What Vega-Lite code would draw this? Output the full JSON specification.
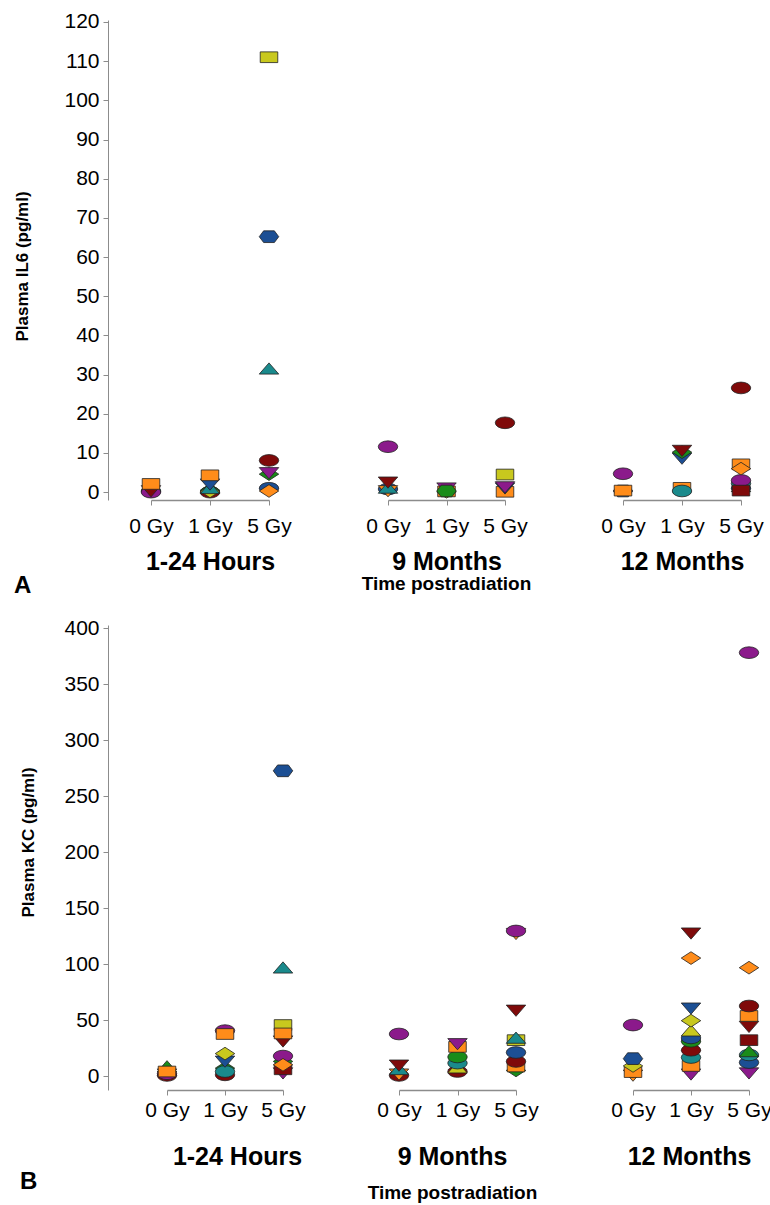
{
  "$schema": "https://vega.github.io/schema/vega-lite/v6.json",
  "padding": {"left": 13, "top": 10, "right": 0, "bottom": 0},
  "spacing": 19,
  "config": {
    "view": {"stroke": null},
    "font": "Liberation Sans",
    "axis": {"domainColor": "#8c8c8c", "tickColor": "#8c8c8c", "labelColor": "#000000", "titleColor": "#000000", "labelFont": "Liberation Sans", "titleFont": "Liberation Sans", "grid": false, "tickSize": 5, "labelFontSize": 21, "labelFontWeight": "normal"},
    "axisX": {"labelAngle": 0, "domainWidth": 1.5, "titleFontSize": 25, "titleFontWeight": "bold"},
    "axisY": {"domainWidth": 1, "titleFontSize": 17, "titleFontWeight": "bold", "labelPadding": 4},
    "title": {"font": "Liberation Sans", "color": "#000000"},
    "point": {"filled": true, "stroke": "#222222", "strokeWidth": 0.8, "opacity": 1, "size": 380}
  },
  "datasets": {
    "il6": [
      {"time": "1-24 Hours", "dose": "0 Gy", "series": "S02", "value": 0.5},
      {"time": "1-24 Hours", "dose": "0 Gy", "series": "S12", "value": 0.2},
      {"time": "1-24 Hours", "dose": "0 Gy", "series": "S10", "value": 0.0},
      {"time": "1-24 Hours", "dose": "0 Gy", "series": "S09", "value": 0.3},
      {"time": "1-24 Hours", "dose": "0 Gy", "series": "S07", "value": 2.1},
      {"time": "1-24 Hours", "dose": "1 Gy", "series": "S04", "value": 0.0},
      {"time": "1-24 Hours", "dose": "1 Gy", "series": "S18", "value": 0.5},
      {"time": "1-24 Hours", "dose": "1 Gy", "series": "S14", "value": 0.2},
      {"time": "1-24 Hours", "dose": "1 Gy", "series": "S03", "value": 1.0},
      {"time": "1-24 Hours", "dose": "1 Gy", "series": "S08", "value": 2.0},
      {"time": "1-24 Hours", "dose": "1 Gy", "series": "S07", "value": 4.3},
      {"time": "1-24 Hours", "dose": "5 Gy", "series": "S16", "value": 1.0},
      {"time": "1-24 Hours", "dose": "5 Gy", "series": "S06", "value": 0.3},
      {"time": "1-24 Hours", "dose": "5 Gy", "series": "S18", "value": 4.6},
      {"time": "1-24 Hours", "dose": "5 Gy", "series": "S05", "value": 4.9},
      {"time": "1-24 Hours", "dose": "5 Gy", "series": "S04", "value": 8.1},
      {"time": "1-24 Hours", "dose": "5 Gy", "series": "S03", "value": 31.5},
      {"time": "1-24 Hours", "dose": "5 Gy", "series": "S02", "value": 65.2},
      {"time": "1-24 Hours", "dose": "5 Gy", "series": "S01", "value": 111.0},
      {"time": "9 Months", "dose": "0 Gy", "series": "S16", "value": 0.8},
      {"time": "9 Months", "dose": "0 Gy", "series": "S19", "value": 0.3},
      {"time": "9 Months", "dose": "0 Gy", "series": "S03", "value": 1.1},
      {"time": "9 Months", "dose": "0 Gy", "series": "S09", "value": 2.5},
      {"time": "9 Months", "dose": "0 Gy", "series": "S10", "value": 11.6},
      {"time": "9 Months", "dose": "1 Gy", "series": "S14", "value": 0.1},
      {"time": "9 Months", "dose": "1 Gy", "series": "S07", "value": 0.2},
      {"time": "9 Months", "dose": "1 Gy", "series": "S05", "value": 1.0},
      {"time": "9 Months", "dose": "1 Gy", "series": "S11", "value": 0.3},
      {"time": "9 Months", "dose": "5 Gy", "series": "S07", "value": 0.1},
      {"time": "9 Months", "dose": "5 Gy", "series": "S08", "value": 1.0},
      {"time": "9 Months", "dose": "5 Gy", "series": "S05", "value": 1.3},
      {"time": "9 Months", "dose": "5 Gy", "series": "S01", "value": 4.5},
      {"time": "9 Months", "dose": "5 Gy", "series": "S04", "value": 17.7},
      {"time": "12 Months", "dose": "0 Gy", "series": "S02", "value": 0.3},
      {"time": "12 Months", "dose": "0 Gy", "series": "S07", "value": 0.4},
      {"time": "12 Months", "dose": "0 Gy", "series": "S10", "value": 4.7},
      {"time": "12 Months", "dose": "1 Gy", "series": "S07", "value": 1.1},
      {"time": "12 Months", "dose": "1 Gy", "series": "S12", "value": 0.3},
      {"time": "12 Months", "dose": "1 Gy", "series": "S08", "value": 8.6},
      {"time": "12 Months", "dose": "1 Gy", "series": "S18", "value": 10.2},
      {"time": "12 Months", "dose": "1 Gy", "series": "S09", "value": 10.6},
      {"time": "12 Months", "dose": "5 Gy", "series": "S16", "value": 1.0},
      {"time": "12 Months", "dose": "5 Gy", "series": "S13", "value": 1.5},
      {"time": "12 Months", "dose": "5 Gy", "series": "S12", "value": 2.2},
      {"time": "12 Months", "dose": "5 Gy", "series": "S10", "value": 3.0},
      {"time": "12 Months", "dose": "5 Gy", "series": "S17", "value": 0.4},
      {"time": "12 Months", "dose": "5 Gy", "series": "S07", "value": 7.1},
      {"time": "12 Months", "dose": "5 Gy", "series": "S06", "value": 6.0},
      {"time": "12 Months", "dose": "5 Gy", "series": "S04", "value": 26.6}
    ],
    "kc": [
      {"time": "1-24 Hours", "dose": "0 Gy", "series": "S04", "value": 0.5},
      {"time": "1-24 Hours", "dose": "0 Gy", "series": "S09", "value": 1.5},
      {"time": "1-24 Hours", "dose": "0 Gy", "series": "S10", "value": 2.0},
      {"time": "1-24 Hours", "dose": "0 Gy", "series": "S13", "value": 8.5},
      {"time": "1-24 Hours", "dose": "0 Gy", "series": "S07", "value": 4.0},
      {"time": "1-24 Hours", "dose": "1 Gy", "series": "S04", "value": 1.0},
      {"time": "1-24 Hours", "dose": "1 Gy", "series": "S18", "value": 7.0},
      {"time": "1-24 Hours", "dose": "1 Gy", "series": "S12", "value": 4.0},
      {"time": "1-24 Hours", "dose": "1 Gy", "series": "S08", "value": 13.0},
      {"time": "1-24 Hours", "dose": "1 Gy", "series": "S14", "value": 20.0},
      {"time": "1-24 Hours", "dose": "1 Gy", "series": "S10", "value": 40.5},
      {"time": "1-24 Hours", "dose": "1 Gy", "series": "S07", "value": 37.5},
      {"time": "1-24 Hours", "dose": "5 Gy", "series": "S05", "value": 2.5},
      {"time": "1-24 Hours", "dose": "5 Gy", "series": "S17", "value": 6.0},
      {"time": "1-24 Hours", "dose": "5 Gy", "series": "S18", "value": 13.0},
      {"time": "1-24 Hours", "dose": "5 Gy", "series": "S10", "value": 17.8},
      {"time": "1-24 Hours", "dose": "5 Gy", "series": "S06", "value": 10.0},
      {"time": "1-24 Hours", "dose": "5 Gy", "series": "S09", "value": 31.0},
      {"time": "1-24 Hours", "dose": "5 Gy", "series": "S01", "value": 45.5},
      {"time": "1-24 Hours", "dose": "5 Gy", "series": "S07", "value": 38.0},
      {"time": "1-24 Hours", "dose": "5 Gy", "series": "S03", "value": 96.7},
      {"time": "1-24 Hours", "dose": "5 Gy", "series": "S02", "value": 272.5},
      {"time": "9 Months", "dose": "0 Gy", "series": "S04", "value": 0.5},
      {"time": "9 Months", "dose": "0 Gy", "series": "S19", "value": 1.5},
      {"time": "9 Months", "dose": "0 Gy", "series": "S03", "value": 6.0},
      {"time": "9 Months", "dose": "0 Gy", "series": "S09", "value": 9.5},
      {"time": "9 Months", "dose": "0 Gy", "series": "S10", "value": 37.5},
      {"time": "9 Months", "dose": "1 Gy", "series": "S04", "value": 4.0},
      {"time": "9 Months", "dose": "1 Gy", "series": "S15", "value": 7.5},
      {"time": "9 Months", "dose": "1 Gy", "series": "S12", "value": 11.5},
      {"time": "9 Months", "dose": "1 Gy", "series": "S20", "value": 17.0},
      {"time": "9 Months", "dose": "1 Gy", "series": "S07", "value": 26.0},
      {"time": "9 Months", "dose": "1 Gy", "series": "S05", "value": 28.6},
      {"time": "9 Months", "dose": "5 Gy", "series": "S18", "value": 5.0},
      {"time": "9 Months", "dose": "5 Gy", "series": "S07", "value": 8.5},
      {"time": "9 Months", "dose": "5 Gy", "series": "S04", "value": 13.0},
      {"time": "9 Months", "dose": "5 Gy", "series": "S16", "value": 21.0},
      {"time": "9 Months", "dose": "5 Gy", "series": "S01", "value": 32.0},
      {"time": "9 Months", "dose": "5 Gy", "series": "S03", "value": 34.0},
      {"time": "9 Months", "dose": "5 Gy", "series": "S09", "value": 58.5},
      {"time": "9 Months", "dose": "5 Gy", "series": "S19", "value": 127.0},
      {"time": "9 Months", "dose": "5 Gy", "series": "S10", "value": 129.5},
      {"time": "12 Months", "dose": "0 Gy", "series": "S19", "value": 0.5},
      {"time": "12 Months", "dose": "0 Gy", "series": "S07", "value": 3.5},
      {"time": "12 Months", "dose": "0 Gy", "series": "S14", "value": 9.0},
      {"time": "12 Months", "dose": "0 Gy", "series": "S02", "value": 15.5},
      {"time": "12 Months", "dose": "0 Gy", "series": "S10", "value": 45.5},
      {"time": "12 Months", "dose": "1 Gy", "series": "S05", "value": 1.5},
      {"time": "12 Months", "dose": "1 Gy", "series": "S07", "value": 9.0},
      {"time": "12 Months", "dose": "1 Gy", "series": "S12", "value": 16.5},
      {"time": "12 Months", "dose": "1 Gy", "series": "S04", "value": 23.0},
      {"time": "12 Months", "dose": "1 Gy", "series": "S20", "value": 31.0},
      {"time": "12 Months", "dose": "1 Gy", "series": "S16", "value": 34.0},
      {"time": "12 Months", "dose": "1 Gy", "series": "S15", "value": 40.5},
      {"time": "12 Months", "dose": "1 Gy", "series": "S14", "value": 49.4},
      {"time": "12 Months", "dose": "1 Gy", "series": "S08", "value": 60.4},
      {"time": "12 Months", "dose": "1 Gy", "series": "S06", "value": 105.3},
      {"time": "12 Months", "dose": "1 Gy", "series": "S09", "value": 127.4},
      {"time": "12 Months", "dose": "5 Gy", "series": "S05", "value": 2.5},
      {"time": "12 Months", "dose": "5 Gy", "series": "S16", "value": 12.0},
      {"time": "12 Months", "dose": "5 Gy", "series": "S12", "value": 18.8},
      {"time": "12 Months", "dose": "5 Gy", "series": "S13", "value": 22.0},
      {"time": "12 Months", "dose": "5 Gy", "series": "S17", "value": 32.0},
      {"time": "12 Months", "dose": "5 Gy", "series": "S09", "value": 44.0},
      {"time": "12 Months", "dose": "5 Gy", "series": "S07", "value": 53.6},
      {"time": "12 Months", "dose": "5 Gy", "series": "S04", "value": 62.5},
      {"time": "12 Months", "dose": "5 Gy", "series": "S06", "value": 96.7},
      {"time": "12 Months", "dose": "5 Gy", "series": "S10", "value": 378.0}
    ]
  },
  "vconcat": [
    {
      "hconcat": [
        {
          "width": 221, "height": 480,
          "data": {"name": "il6"},
          "title": {"text": "A", "orient": "bottom", "anchor": "start", "fontSize": 24, "fontWeight": "bold", "offset": 0, "baseline": "top"},
          "transform": [{"filter": "datum.time === '1-24 Hours'"}],
          "mark": {"type": "point"},
          "encoding": {
            "x": {"field": "dose", "type": "nominal", "scale": {"type": "point", "domain": ["0 Gy", "1 Gy", "5 Gy"], "range": [43, 161], "padding": 0}, "axis": {"title": "1-24 Hours", "titleX": 102, "labelPadding": 10, "titlePadding": 13}},
            "y": {"field": "value", "type": "quantitative", "scale": {"domain": [-2, 120.5], "nice": false, "zero": false}, "axis": {"title": "Plasma IL6 (pg/ml)", "values": [0, 10, 20, 30, 40, 50, 60, 70, 80, 90, 100, 110, 120], "titlePadding": 32, "titleY": 246}},
            "color": {"field": "series", "type": "nominal", "legend": null, "scale": {"domain": ["S01","S02","S03","S04","S05","S06","S07","S08","S09","S10","S11","S12","S13","S14","S15","S16","S17","S18","S19","S20"], "range": ["#c8c81e","#1c4f94","#1a8a8c","#7f0a0a","#8b1a8b","#ff8c1a","#ff8c1a","#1c4f94","#7f0a0a","#8b1a8b","#1a8c1a","#1a8a8c","#1a8c1a","#c8c81e","#c8c81e","#1c4f94","#7f0a0a","#1a8c1a","#ff8c1a","#1a8c1a"]}},
            "shape": {"field": "series", "type": "nominal", "legend": null, "scale": {"domain": ["S01","S02","S03","S04","S05","S06","S07","S08","S09","S10","S11","S12","S13","S14","S15","S16","S17","S18","S19","S20"], "range": ["M-0.9,-0.55L0.9,-0.55L0.9,0.55L-0.9,0.55Z","M-1,0L-0.55,-0.6L0.55,-0.6L1,0L0.55,0.6L-0.55,0.6Z","M-1,0.55L0,-0.6L1,0.55Z","M1,0L0.924,0.23L0.707,0.424L0.383,0.554L0,0.6L-0.383,0.554L-0.707,0.424L-0.924,0.23L-1,0L-0.924,-0.23L-0.707,-0.424L-0.383,-0.554L0,-0.6L0.383,-0.554L0.707,-0.424L0.924,-0.23Z","M-1,-0.55L1,-0.55L0,0.6Z","M-1,0L0,-0.65L1,0L0,0.65Z","M-0.9,-0.55L0.9,-0.55L0.9,0.55L-0.9,0.55Z","M-1,-0.55L1,-0.55L0,0.6Z","M-1,-0.55L1,-0.55L0,0.6Z","M1,0L0.924,0.23L0.707,0.424L0.383,0.554L0,0.6L-0.383,0.554L-0.707,0.424L-0.924,0.23L-1,0L-0.924,-0.23L-0.707,-0.424L-0.383,-0.554L0,-0.6L0.383,-0.554L0.707,-0.424L0.924,-0.23Z","M-1,0L-0.55,-0.6L0.55,-0.6L1,0L0.55,0.6L-0.55,0.6Z","M1,0L0.924,0.23L0.707,0.424L0.383,0.554L0,0.6L-0.383,0.554L-0.707,0.424L-0.924,0.23L-1,0L-0.924,-0.23L-0.707,-0.424L-0.383,-0.554L0,-0.6L0.383,-0.554L0.707,-0.424L0.924,-0.23Z","M-1,0.55L0,-0.6L1,0.55Z","M-1,0L0,-0.65L1,0L0,0.65Z","M-1,0.55L0,-0.6L1,0.55Z","M1,0L0.924,0.23L0.707,0.424L0.383,0.554L0,0.6L-0.383,0.554L-0.707,0.424L-0.924,0.23L-1,0L-0.924,-0.23L-0.707,-0.424L-0.383,-0.554L0,-0.6L0.383,-0.554L0.707,-0.424L0.924,-0.23Z","M-0.9,-0.55L0.9,-0.55L0.9,0.55L-0.9,0.55Z","M-1,0L0,-0.65L1,0L0,0.65Z","M-1,-0.55L1,-0.55L0,0.6Z","M1,0L0.924,0.23L0.707,0.424L0.383,0.554L0,0.6L-0.383,0.554L-0.707,0.424L-0.924,0.23L-1,0L-0.924,-0.23L-0.707,-0.424L-0.383,-0.554L0,-0.6L0.383,-0.554L0.707,-0.424L0.924,-0.23Z"]}}
          }
        },
        {
          "width": 235, "height": 480,
          "data": {"name": "il6"},
          "title": {"text": "Time postradiation", "orient": "bottom", "anchor": "middle", "fontSize": 19, "fontWeight": "bold", "offset": 1, "baseline": "top"},
          "transform": [{"filter": "datum.time === '9 Months'"}],
          "mark": {"type": "point"},
          "encoding": {
            "x": {"field": "dose", "type": "nominal", "scale": {"type": "point", "domain": ["0 Gy", "1 Gy", "5 Gy"], "range": [59, 176], "padding": 0}, "axis": {"title": "9 Months", "labelPadding": 10, "titlePadding": 13}},
            "y": {"field": "value", "type": "quantitative", "scale": {"domain": [-2, 120.5], "nice": false, "zero": false}, "axis": null},
            "color": {"field": "series", "type": "nominal", "legend": null, "scale": {"domain": ["S01","S02","S03","S04","S05","S06","S07","S08","S09","S10","S11","S12","S13","S14","S15","S16","S17","S18","S19","S20"], "range": ["#c8c81e","#1c4f94","#1a8a8c","#7f0a0a","#8b1a8b","#ff8c1a","#ff8c1a","#1c4f94","#7f0a0a","#8b1a8b","#1a8c1a","#1a8a8c","#1a8c1a","#c8c81e","#c8c81e","#1c4f94","#7f0a0a","#1a8c1a","#ff8c1a","#1a8c1a"]}},
            "shape": {"field": "series", "type": "nominal", "legend": null, "scale": {"domain": ["S01","S02","S03","S04","S05","S06","S07","S08","S09","S10","S11","S12","S13","S14","S15","S16","S17","S18","S19","S20"], "range": ["M-0.9,-0.55L0.9,-0.55L0.9,0.55L-0.9,0.55Z","M-1,0L-0.55,-0.6L0.55,-0.6L1,0L0.55,0.6L-0.55,0.6Z","M-1,0.55L0,-0.6L1,0.55Z","M1,0L0.924,0.23L0.707,0.424L0.383,0.554L0,0.6L-0.383,0.554L-0.707,0.424L-0.924,0.23L-1,0L-0.924,-0.23L-0.707,-0.424L-0.383,-0.554L0,-0.6L0.383,-0.554L0.707,-0.424L0.924,-0.23Z","M-1,-0.55L1,-0.55L0,0.6Z","M-1,0L0,-0.65L1,0L0,0.65Z","M-0.9,-0.55L0.9,-0.55L0.9,0.55L-0.9,0.55Z","M-1,-0.55L1,-0.55L0,0.6Z","M-1,-0.55L1,-0.55L0,0.6Z","M1,0L0.924,0.23L0.707,0.424L0.383,0.554L0,0.6L-0.383,0.554L-0.707,0.424L-0.924,0.23L-1,0L-0.924,-0.23L-0.707,-0.424L-0.383,-0.554L0,-0.6L0.383,-0.554L0.707,-0.424L0.924,-0.23Z","M-1,0L-0.55,-0.6L0.55,-0.6L1,0L0.55,0.6L-0.55,0.6Z","M1,0L0.924,0.23L0.707,0.424L0.383,0.554L0,0.6L-0.383,0.554L-0.707,0.424L-0.924,0.23L-1,0L-0.924,-0.23L-0.707,-0.424L-0.383,-0.554L0,-0.6L0.383,-0.554L0.707,-0.424L0.924,-0.23Z","M-1,0.55L0,-0.6L1,0.55Z","M-1,0L0,-0.65L1,0L0,0.65Z","M-1,0.55L0,-0.6L1,0.55Z","M1,0L0.924,0.23L0.707,0.424L0.383,0.554L0,0.6L-0.383,0.554L-0.707,0.424L-0.924,0.23L-1,0L-0.924,-0.23L-0.707,-0.424L-0.383,-0.554L0,-0.6L0.383,-0.554L0.707,-0.424L0.924,-0.23Z","M-0.9,-0.55L0.9,-0.55L0.9,0.55L-0.9,0.55Z","M-1,0L0,-0.65L1,0L0,0.65Z","M-1,-0.55L1,-0.55L0,0.6Z","M1,0L0.924,0.23L0.707,0.424L0.383,0.554L0,0.6L-0.383,0.554L-0.707,0.424L-0.924,0.23L-1,0L-0.924,-0.23L-0.707,-0.424L-0.383,-0.554L0,-0.6L0.383,-0.554L0.707,-0.424L0.924,-0.23Z"]}}
          }
        },
        {
          "width": 177, "height": 480,
          "data": {"name": "il6"},
          "transform": [{"filter": "datum.time === '12 Months'"}],
          "mark": {"type": "point"},
          "encoding": {
            "x": {"field": "dose", "type": "nominal", "scale": {"type": "point", "domain": ["0 Gy", "1 Gy", "5 Gy"], "range": [59, 177], "padding": 0}, "axis": {"title": "12 Months", "titleX": 118, "labelPadding": 10, "titlePadding": 13}},
            "y": {"field": "value", "type": "quantitative", "scale": {"domain": [-2, 120.5], "nice": false, "zero": false}, "axis": null},
            "color": {"field": "series", "type": "nominal", "legend": null, "scale": {"domain": ["S01","S02","S03","S04","S05","S06","S07","S08","S09","S10","S11","S12","S13","S14","S15","S16","S17","S18","S19","S20"], "range": ["#c8c81e","#1c4f94","#1a8a8c","#7f0a0a","#8b1a8b","#ff8c1a","#ff8c1a","#1c4f94","#7f0a0a","#8b1a8b","#1a8c1a","#1a8a8c","#1a8c1a","#c8c81e","#c8c81e","#1c4f94","#7f0a0a","#1a8c1a","#ff8c1a","#1a8c1a"]}},
            "shape": {"field": "series", "type": "nominal", "legend": null, "scale": {"domain": ["S01","S02","S03","S04","S05","S06","S07","S08","S09","S10","S11","S12","S13","S14","S15","S16","S17","S18","S19","S20"], "range": ["M-0.9,-0.55L0.9,-0.55L0.9,0.55L-0.9,0.55Z","M-1,0L-0.55,-0.6L0.55,-0.6L1,0L0.55,0.6L-0.55,0.6Z","M-1,0.55L0,-0.6L1,0.55Z","M1,0L0.924,0.23L0.707,0.424L0.383,0.554L0,0.6L-0.383,0.554L-0.707,0.424L-0.924,0.23L-1,0L-0.924,-0.23L-0.707,-0.424L-0.383,-0.554L0,-0.6L0.383,-0.554L0.707,-0.424L0.924,-0.23Z","M-1,-0.55L1,-0.55L0,0.6Z","M-1,0L0,-0.65L1,0L0,0.65Z","M-0.9,-0.55L0.9,-0.55L0.9,0.55L-0.9,0.55Z","M-1,-0.55L1,-0.55L0,0.6Z","M-1,-0.55L1,-0.55L0,0.6Z","M1,0L0.924,0.23L0.707,0.424L0.383,0.554L0,0.6L-0.383,0.554L-0.707,0.424L-0.924,0.23L-1,0L-0.924,-0.23L-0.707,-0.424L-0.383,-0.554L0,-0.6L0.383,-0.554L0.707,-0.424L0.924,-0.23Z","M-1,0L-0.55,-0.6L0.55,-0.6L1,0L0.55,0.6L-0.55,0.6Z","M1,0L0.924,0.23L0.707,0.424L0.383,0.554L0,0.6L-0.383,0.554L-0.707,0.424L-0.924,0.23L-1,0L-0.924,-0.23L-0.707,-0.424L-0.383,-0.554L0,-0.6L0.383,-0.554L0.707,-0.424L0.924,-0.23Z","M-1,0.55L0,-0.6L1,0.55Z","M-1,0L0,-0.65L1,0L0,0.65Z","M-1,0.55L0,-0.6L1,0.55Z","M1,0L0.924,0.23L0.707,0.424L0.383,0.554L0,0.6L-0.383,0.554L-0.707,0.424L-0.924,0.23L-1,0L-0.924,-0.23L-0.707,-0.424L-0.383,-0.554L0,-0.6L0.383,-0.554L0.707,-0.424L0.924,-0.23Z","M-0.9,-0.55L0.9,-0.55L0.9,0.55L-0.9,0.55Z","M-1,0L0,-0.65L1,0L0,0.65Z","M-1,-0.55L1,-0.55L0,0.6Z","M1,0L0.924,0.23L0.707,0.424L0.383,0.554L0,0.6L-0.383,0.554L-0.707,0.424L-0.924,0.23L-1,0L-0.924,-0.23L-0.707,-0.424L-0.383,-0.554L0,-0.6L0.383,-0.554L0.707,-0.424L0.924,-0.23Z"]}}
          }
        }
      ],
      "spacing": 0,
      "bounds": "flush"
    },
    {
      "hconcat": [
        {
          "width": 233, "height": 465,
          "data": {"name": "kc"},
          "title": {"text": "B", "orient": "bottom", "anchor": "start", "fontSize": 24, "fontWeight": "bold", "offset": 1, "baseline": "top"},
          "transform": [{"filter": "datum.time === '1-24 Hours'"}],
          "mark": {"type": "point"},
          "encoding": {
            "x": {"field": "dose", "type": "nominal", "scale": {"type": "point", "domain": ["0 Gy", "1 Gy", "5 Gy"], "range": [59, 175], "padding": 0}, "axis": {"title": "1-24 Hours", "titleX": 129, "labelPadding": 4, "titlePadding": 24}},
            "y": {"field": "value", "type": "quantitative", "scale": {"domain": [-12.5, 402.7], "nice": false, "zero": false}, "axis": {"title": "Plasma KC (pg/ml)", "values": [0, 50, 100, 150, 200, 250, 300, 350, 400], "titlePadding": 26, "titleY": 217}},
            "color": {"field": "series", "type": "nominal", "legend": null, "scale": {"domain": ["S01","S02","S03","S04","S05","S06","S07","S08","S09","S10","S11","S12","S13","S14","S15","S16","S17","S18","S19","S20"], "range": ["#c8c81e","#1c4f94","#1a8a8c","#7f0a0a","#8b1a8b","#ff8c1a","#ff8c1a","#1c4f94","#7f0a0a","#8b1a8b","#1a8c1a","#1a8a8c","#1a8c1a","#c8c81e","#c8c81e","#1c4f94","#7f0a0a","#1a8c1a","#ff8c1a","#1a8c1a"]}},
            "shape": {"field": "series", "type": "nominal", "legend": null, "scale": {"domain": ["S01","S02","S03","S04","S05","S06","S07","S08","S09","S10","S11","S12","S13","S14","S15","S16","S17","S18","S19","S20"], "range": ["M-0.9,-0.55L0.9,-0.55L0.9,0.55L-0.9,0.55Z","M-1,0L-0.55,-0.6L0.55,-0.6L1,0L0.55,0.6L-0.55,0.6Z","M-1,0.55L0,-0.6L1,0.55Z","M1,0L0.924,0.23L0.707,0.424L0.383,0.554L0,0.6L-0.383,0.554L-0.707,0.424L-0.924,0.23L-1,0L-0.924,-0.23L-0.707,-0.424L-0.383,-0.554L0,-0.6L0.383,-0.554L0.707,-0.424L0.924,-0.23Z","M-1,-0.55L1,-0.55L0,0.6Z","M-1,0L0,-0.65L1,0L0,0.65Z","M-0.9,-0.55L0.9,-0.55L0.9,0.55L-0.9,0.55Z","M-1,-0.55L1,-0.55L0,0.6Z","M-1,-0.55L1,-0.55L0,0.6Z","M1,0L0.924,0.23L0.707,0.424L0.383,0.554L0,0.6L-0.383,0.554L-0.707,0.424L-0.924,0.23L-1,0L-0.924,-0.23L-0.707,-0.424L-0.383,-0.554L0,-0.6L0.383,-0.554L0.707,-0.424L0.924,-0.23Z","M-1,0L-0.55,-0.6L0.55,-0.6L1,0L0.55,0.6L-0.55,0.6Z","M1,0L0.924,0.23L0.707,0.424L0.383,0.554L0,0.6L-0.383,0.554L-0.707,0.424L-0.924,0.23L-1,0L-0.924,-0.23L-0.707,-0.424L-0.383,-0.554L0,-0.6L0.383,-0.554L0.707,-0.424L0.924,-0.23Z","M-1,0.55L0,-0.6L1,0.55Z","M-1,0L0,-0.65L1,0L0,0.65Z","M-1,0.55L0,-0.6L1,0.55Z","M1,0L0.924,0.23L0.707,0.424L0.383,0.554L0,0.6L-0.383,0.554L-0.707,0.424L-0.924,0.23L-1,0L-0.924,-0.23L-0.707,-0.424L-0.383,-0.554L0,-0.6L0.383,-0.554L0.707,-0.424L0.924,-0.23Z","M-0.9,-0.55L0.9,-0.55L0.9,0.55L-0.9,0.55Z","M-1,0L0,-0.65L1,0L0,0.65Z","M-1,-0.55L1,-0.55L0,0.6Z","M1,0L0.924,0.23L0.707,0.424L0.383,0.554L0,0.6L-0.383,0.554L-0.707,0.424L-0.924,0.23L-1,0L-0.924,-0.23L-0.707,-0.424L-0.383,-0.554L0,-0.6L0.383,-0.554L0.707,-0.424L0.924,-0.23Z"]}}
          }
        },
        {
          "width": 233, "height": 465,
          "data": {"name": "kc"},
          "title": {"text": "Time postradiation", "orient": "bottom", "anchor": "middle", "fontSize": 19, "fontWeight": "bold", "offset": 15, "baseline": "top", "dx": -5},
          "transform": [{"filter": "datum.time === '9 Months'"}],
          "mark": {"type": "point"},
          "encoding": {
            "x": {"field": "dose", "type": "nominal", "scale": {"type": "point", "domain": ["0 Gy", "1 Gy", "5 Gy"], "range": [58, 175], "padding": 0}, "axis": {"title": "9 Months", "titleX": 111, "labelPadding": 4, "titlePadding": 24}},
            "y": {"field": "value", "type": "quantitative", "scale": {"domain": [-12.5, 402.7], "nice": false, "zero": false}, "axis": null},
            "color": {"field": "series", "type": "nominal", "legend": null, "scale": {"domain": ["S01","S02","S03","S04","S05","S06","S07","S08","S09","S10","S11","S12","S13","S14","S15","S16","S17","S18","S19","S20"], "range": ["#c8c81e","#1c4f94","#1a8a8c","#7f0a0a","#8b1a8b","#ff8c1a","#ff8c1a","#1c4f94","#7f0a0a","#8b1a8b","#1a8c1a","#1a8a8c","#1a8c1a","#c8c81e","#c8c81e","#1c4f94","#7f0a0a","#1a8c1a","#ff8c1a","#1a8c1a"]}},
            "shape": {"field": "series", "type": "nominal", "legend": null, "scale": {"domain": ["S01","S02","S03","S04","S05","S06","S07","S08","S09","S10","S11","S12","S13","S14","S15","S16","S17","S18","S19","S20"], "range": ["M-0.9,-0.55L0.9,-0.55L0.9,0.55L-0.9,0.55Z","M-1,0L-0.55,-0.6L0.55,-0.6L1,0L0.55,0.6L-0.55,0.6Z","M-1,0.55L0,-0.6L1,0.55Z","M1,0L0.924,0.23L0.707,0.424L0.383,0.554L0,0.6L-0.383,0.554L-0.707,0.424L-0.924,0.23L-1,0L-0.924,-0.23L-0.707,-0.424L-0.383,-0.554L0,-0.6L0.383,-0.554L0.707,-0.424L0.924,-0.23Z","M-1,-0.55L1,-0.55L0,0.6Z","M-1,0L0,-0.65L1,0L0,0.65Z","M-0.9,-0.55L0.9,-0.55L0.9,0.55L-0.9,0.55Z","M-1,-0.55L1,-0.55L0,0.6Z","M-1,-0.55L1,-0.55L0,0.6Z","M1,0L0.924,0.23L0.707,0.424L0.383,0.554L0,0.6L-0.383,0.554L-0.707,0.424L-0.924,0.23L-1,0L-0.924,-0.23L-0.707,-0.424L-0.383,-0.554L0,-0.6L0.383,-0.554L0.707,-0.424L0.924,-0.23Z","M-1,0L-0.55,-0.6L0.55,-0.6L1,0L0.55,0.6L-0.55,0.6Z","M1,0L0.924,0.23L0.707,0.424L0.383,0.554L0,0.6L-0.383,0.554L-0.707,0.424L-0.924,0.23L-1,0L-0.924,-0.23L-0.707,-0.424L-0.383,-0.554L0,-0.6L0.383,-0.554L0.707,-0.424L0.924,-0.23Z","M-1,0.55L0,-0.6L1,0.55Z","M-1,0L0,-0.65L1,0L0,0.65Z","M-1,0.55L0,-0.6L1,0.55Z","M1,0L0.924,0.23L0.707,0.424L0.383,0.554L0,0.6L-0.383,0.554L-0.707,0.424L-0.924,0.23L-1,0L-0.924,-0.23L-0.707,-0.424L-0.383,-0.554L0,-0.6L0.383,-0.554L0.707,-0.424L0.924,-0.23Z","M-0.9,-0.55L0.9,-0.55L0.9,0.55L-0.9,0.55Z","M-1,0L0,-0.65L1,0L0,0.65Z","M-1,-0.55L1,-0.55L0,0.6Z","M1,0L0.924,0.23L0.707,0.424L0.383,0.554L0,0.6L-0.383,0.554L-0.707,0.424L-0.924,0.23L-1,0L-0.924,-0.23L-0.707,-0.424L-0.383,-0.554L0,-0.6L0.383,-0.554L0.707,-0.424L0.924,-0.23Z"]}}
          }
        },
        {
          "width": 175, "height": 465,
          "data": {"name": "kc"},
          "transform": [{"filter": "datum.time === '12 Months'"}],
          "mark": {"type": "point"},
          "encoding": {
            "x": {"field": "dose", "type": "nominal", "scale": {"type": "point", "domain": ["0 Gy", "1 Gy", "5 Gy"], "range": [59, 175], "padding": 0}, "axis": {"title": "12 Months", "titleX": 115, "labelPadding": 4, "titlePadding": 24}},
            "y": {"field": "value", "type": "quantitative", "scale": {"domain": [-12.5, 402.7], "nice": false, "zero": false}, "axis": null},
            "color": {"field": "series", "type": "nominal", "legend": null, "scale": {"domain": ["S01","S02","S03","S04","S05","S06","S07","S08","S09","S10","S11","S12","S13","S14","S15","S16","S17","S18","S19","S20"], "range": ["#c8c81e","#1c4f94","#1a8a8c","#7f0a0a","#8b1a8b","#ff8c1a","#ff8c1a","#1c4f94","#7f0a0a","#8b1a8b","#1a8c1a","#1a8a8c","#1a8c1a","#c8c81e","#c8c81e","#1c4f94","#7f0a0a","#1a8c1a","#ff8c1a","#1a8c1a"]}},
            "shape": {"field": "series", "type": "nominal", "legend": null, "scale": {"domain": ["S01","S02","S03","S04","S05","S06","S07","S08","S09","S10","S11","S12","S13","S14","S15","S16","S17","S18","S19","S20"], "range": ["M-0.9,-0.55L0.9,-0.55L0.9,0.55L-0.9,0.55Z","M-1,0L-0.55,-0.6L0.55,-0.6L1,0L0.55,0.6L-0.55,0.6Z","M-1,0.55L0,-0.6L1,0.55Z","M1,0L0.924,0.23L0.707,0.424L0.383,0.554L0,0.6L-0.383,0.554L-0.707,0.424L-0.924,0.23L-1,0L-0.924,-0.23L-0.707,-0.424L-0.383,-0.554L0,-0.6L0.383,-0.554L0.707,-0.424L0.924,-0.23Z","M-1,-0.55L1,-0.55L0,0.6Z","M-1,0L0,-0.65L1,0L0,0.65Z","M-0.9,-0.55L0.9,-0.55L0.9,0.55L-0.9,0.55Z","M-1,-0.55L1,-0.55L0,0.6Z","M-1,-0.55L1,-0.55L0,0.6Z","M1,0L0.924,0.23L0.707,0.424L0.383,0.554L0,0.6L-0.383,0.554L-0.707,0.424L-0.924,0.23L-1,0L-0.924,-0.23L-0.707,-0.424L-0.383,-0.554L0,-0.6L0.383,-0.554L0.707,-0.424L0.924,-0.23Z","M-1,0L-0.55,-0.6L0.55,-0.6L1,0L0.55,0.6L-0.55,0.6Z","M1,0L0.924,0.23L0.707,0.424L0.383,0.554L0,0.6L-0.383,0.554L-0.707,0.424L-0.924,0.23L-1,0L-0.924,-0.23L-0.707,-0.424L-0.383,-0.554L0,-0.6L0.383,-0.554L0.707,-0.424L0.924,-0.23Z","M-1,0.55L0,-0.6L1,0.55Z","M-1,0L0,-0.65L1,0L0,0.65Z","M-1,0.55L0,-0.6L1,0.55Z","M1,0L0.924,0.23L0.707,0.424L0.383,0.554L0,0.6L-0.383,0.554L-0.707,0.424L-0.924,0.23L-1,0L-0.924,-0.23L-0.707,-0.424L-0.383,-0.554L0,-0.6L0.383,-0.554L0.707,-0.424L0.924,-0.23Z","M-0.9,-0.55L0.9,-0.55L0.9,0.55L-0.9,0.55Z","M-1,0L0,-0.65L1,0L0,0.65Z","M-1,-0.55L1,-0.55L0,0.6Z","M1,0L0.924,0.23L0.707,0.424L0.383,0.554L0,0.6L-0.383,0.554L-0.707,0.424L-0.924,0.23L-1,0L-0.924,-0.23L-0.707,-0.424L-0.383,-0.554L0,-0.6L0.383,-0.554L0.707,-0.424L0.924,-0.23Z"]}}
          }
        }
      ],
      "spacing": 0,
      "bounds": "flush"
    }
  ]
}
